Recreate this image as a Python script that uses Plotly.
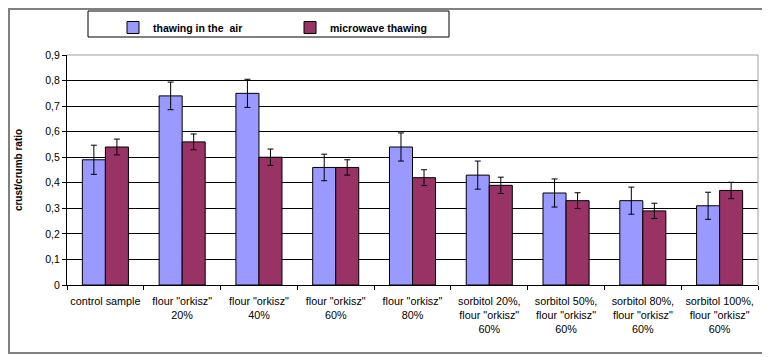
import plotly.graph_objects as go

categories = [
    "control sample",
    "flour \"orkisz\"<br>20%",
    "flour \"orkisz\"<br>40%",
    "flour \"orkisz\"<br>60%",
    "flour \"orkisz\"<br>80%",
    "sorbitol 20%,<br>flour \"orkisz\"<br>60%",
    "sorbitol 50%,<br>flour \"orkisz\"<br>60%",
    "sorbitol 80%,<br>flour \"orkisz\"<br>60%",
    "sorbitol 100%,<br>flour \"orkisz\"<br>60%",
]
air_values = [0.49, 0.74, 0.75, 0.46, 0.54, 0.43, 0.36, 0.33, 0.31]
air_errors = [0.057, 0.054, 0.055, 0.052, 0.055, 0.055, 0.055, 0.053, 0.053]
micro_values = [0.54, 0.56, 0.50, 0.46, 0.42, 0.39, 0.33, 0.29, 0.37]
micro_errors = [0.031, 0.031, 0.032, 0.03, 0.031, 0.032, 0.031, 0.03, 0.032]
y_tickvals = [0, 0.1, 0.2, 0.3, 0.4, 0.5, 0.6, 0.7, 0.8, 0.9]
y_ticktext = ["0", "0,1", "0,2", "0,3", "0,4", "0,5", "0,6", "0,7", "0,8", "0,9"]

FONT = "Liberation Sans, Arial, sans-serif"

fig = go.Figure()
fig.add_trace(go.Bar(
    x=categories, y=air_values, name="thawing in the  air",
    marker=dict(color="#9999FF", line=dict(color="#000000", width=1)),
    error_y=dict(type="data", array=air_errors, color="#000000", thickness=1, width=3),
))
fig.add_trace(go.Bar(
    x=categories, y=micro_values, name="microwave thawing",
    marker=dict(color="#993366", line=dict(color="#000000", width=1)),
    error_y=dict(type="data", array=micro_errors, color="#000000", thickness=1, width=3),
))

# page body has an 8px margin: figure pixel = reference pixel - 8
OFF = 8
W, H = 762, 349
L, R, T, B = 67 - OFF, 12, 55 - OFF, 72
pw, ph = W - L - R, H - T - B

def px_x(p):
    return (p - OFF - L) / pw

def px_y(p):
    return (H - B - (p - OFF)) / ph

shapes = [
    # outer frame
    dict(type="rect", xref="paper", yref="paper",
         x0=px_x(OFF + 1), x1=px_x(766), y0=px_y(353), y1=px_y(OFF + 1),
         line=dict(color="#808080", width=2), layer="below"),
    # legend box
    dict(type="rect", xref="paper", yref="paper",
         x0=px_x(88), x1=px_x(449), y0=px_y(37), y1=px_y(11),
         line=dict(color="#000000", width=1), fillcolor="white", layer="below"),
    # plot area top/right border
    dict(type="line", xref="paper", yref="paper", x0=0, x1=1, y0=1, y1=1,
         line=dict(color="#A0A0A0", width=1)),
    dict(type="line", xref="paper", yref="paper", x0=1, x1=1, y0=0, y1=1,
         line=dict(color="#A0A0A0", width=1)),
]

fig.update_layout(
    width=W, height=H,
    margin=dict(l=L, r=R, t=T, b=B, autoexpand=False),
    paper_bgcolor="white", plot_bgcolor="white",
    font=dict(family=FONT, size=10, color="#000000"),
    barmode="group", bargap=0.4, bargroupgap=0,
    showlegend=True,
    legend=dict(
        orientation="h", x=px_x(113), y=px_y(13), xanchor="left", yanchor="top",
        entrywidth=132, entrywidthmode="pixels",
        font=dict(family=FONT, size=10.5, color="#000000", weight="bold"),
        bgcolor="rgba(0,0,0,0)", borderwidth=0,
    ),
    shapes=shapes,
)
fig.update_xaxes(
    showline=True, linecolor="#000000", linewidth=1,
    ticks="outside", tickson="boundaries", ticklen=4, tickcolor="#000000",
    tickfont=dict(family=FONT, size=10.8, color="#000000"), tickangle=0,
    ticklabelstandoff=6,
    showgrid=False,
)
fig.update_yaxes(
    range=[0, 0.9], tickvals=y_tickvals, ticktext=y_ticktext,
    showline=True, linecolor="#000000", linewidth=1,
    ticks="outside", ticklen=4, tickcolor="#000000",
    showgrid=True, gridcolor="#000000", gridwidth=1,
    tickfont=dict(family=FONT, size=10.5, color="#000000"),
    title=dict(text="crust/crumb ratio", font=dict(family=FONT, size=10, color="#000000", weight="bold"), standoff=20),
    zeroline=False,
)

fig.write_html("out.html", config={"displayModeBar": False})
